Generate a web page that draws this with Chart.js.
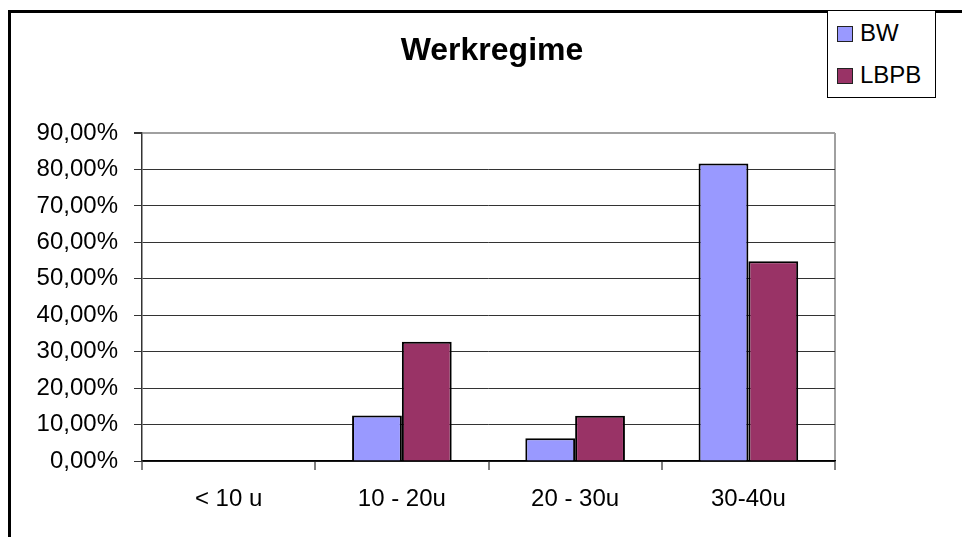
<!DOCTYPE html>
<html>
<head>
<meta charset="utf-8">
<script src="https://cdn.jsdelivr.net/npm/chart.js@4"></script>
<style>
  body { margin: 0; background: #fff; overflow: hidden; font-family: "Liberation Sans", Arial, sans-serif; }
  #wrap { position: relative; width: 962px; height: 537px; }
  #frame { position: absolute; left: 8px; top: 10px; width: 1000px; height: 600px; border: 3px solid #000; }
  #box { position: absolute; left: 0; top: 0; width: 962px; height: 537px; }
  #titulo { position: absolute; left: 292px; width: 400px; top: 31px; text-align: center; font-size: 32px; line-height: 36px; font-weight: bold; color: #000; }
  #legend { position: absolute; left: 827px; top: 10px; width: 107px; height: 86px; border: 1px solid #000; background: #fff; }
  .item { position: absolute; left: 9px; font-size: 24px; line-height: 24px; color: #000; }
  .item span.sq { display: inline-block; width: 14px; height: 14px; border: 1.5px solid #222; margin-right: 7px; vertical-align: -1px; }
</style>
</head>
<body>
<div id="wrap">
  <div id="frame"></div>
  <div id="box"><canvas id="myChart"></canvas></div>
  <div id="titulo">Werkregime</div>
  <div id="legend"></div>
</div>
<script>
// Datos del gráfico
const titulo = 'Werkregime';
const categorias = ['< 10 u', '10 - 20u', '20 - 30u', '30-40u'];
const valoresBW = [0, 12.5, 6.25, 81.6];
const valoresLBPB = [0, 32.7, 12.4, 54.8];
const series = ['BW', 'LBPB'];
const colores = ['#9999FF', '#993366'];

const fuente = '"Liberation Sans", Arial, sans-serif';
const ctx = document.getElementById('myChart').getContext('2d');
document.getElementById('titulo').textContent = titulo;

const chart = new Chart(ctx, {
    type: 'bar',
    data: {
        labels: categorias,
        datasets: [
            { label: series[0], data: valoresBW, backgroundColor: colores[0], borderColor: '#000', borderWidth: 2 },
            { label: series[1], data: valoresLBPB, backgroundColor: colores[1], borderColor: '#000', borderWidth: 2 }
        ]
    },
    options: {
        responsive: true,
        maintainAspectRatio: false,
        animation: false,
        categoryPercentage: 0.575,
        barPercentage: 1,
        layout: { padding: { left: 0, right: 127, top: 133, bottom: 0 } },
        plugins: {
            legend: { display: false },
            tooltip: { enabled: false },
            title: { display: false }
        },
        scales: {
            x: {
                afterFit: s => { s.height = 76; },
                border: { display: true, color: '#000', width: 1.5 },
                grid: {
                    drawOnChartArea: true,
                    color: c => c.type === 'tick' ? 'rgba(0,0,0,0)' : '#a0a0a0',
                    lineWidth: 2,
                    tickColor: '#000',
                    tickWidth: 1,
                    tickLength: 9
                },
                ticks: { color: '#000', font: { family: fuente, size: 24 }, padding: 15 }
            },
            y: {
                min: 0,
                max: 90,
                afterFit: s => { s.width = 142; },
                border: { display: true, color: '#333', width: 1.5 },
                grid: {
                    color: c => c.tick && c.tick.value === 90 ? '#a0a0a0' : '#333',
                    lineWidth: c => c.tick && c.tick.value === 90 ? 2 : 1,
                    tickColor: '#333',
                    tickLength: 8
                },
                ticks: {
                    stepSize: 10,
                    color: '#000',
                    padding: 16,
                    font: { family: fuente, size: 24 },
                    callback: v => v.toFixed(2).replace('.', ',') + '%'
                }
            }
        }
    }
});

// Leyenda en HTML
const leyenda = document.getElementById('legend');
chart.data.datasets.forEach((ds, i) => {
    const div = document.createElement('div');
    div.className = 'item';
    div.style.top = (10 + i * 42) + 'px';
    div.innerHTML = '<span class="sq" style="background:' + ds.backgroundColor + '"></span>' + ds.label;
    leyenda.appendChild(div);
});
</script>
</body>
</html>
